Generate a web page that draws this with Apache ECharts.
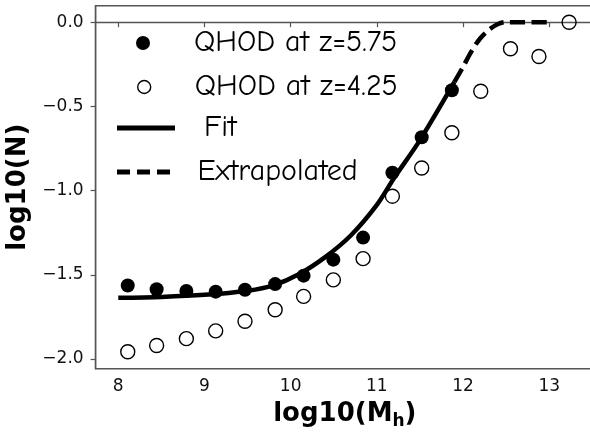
<!DOCTYPE html>
<html><head><meta charset="utf-8">
<script src="https://cdn.jsdelivr.net/npm/echarts@6/dist/echarts.min.js"></script>
<style>html,body{margin:0;padding:0;background:#fff}#c{width:590px;height:437px}</style>
</head><body><div id="c"></div>
<script>
// halo mass bins (log10 Mh)
const massBins = [8.11, 8.445, 8.79, 9.13, 9.47, 9.82, 10.15, 10.495, 10.84, 11.18, 11.52, 11.87, 12.205, 12.55, 12.88, 13.23];
// log10(N) for QHOD at z=5.75 (first 12 bins)
const qhodZ575 = [-1.563, -1.586, -1.596, -1.600, -1.589, -1.555, -1.505, -1.410, -1.279, -0.894, -0.683, -0.404];
// log10(N) for QHOD at z=4.25
const qhodZ425 = [-1.957, -1.920, -1.879, -1.833, -1.776, -1.707, -1.628, -1.530, -1.404, -1.033, -0.866, -0.656, -0.410, -0.158, -0.204, 0.0];
// fit curve
const fitX = [8.0, 8.5, 9.0, 9.5, 9.8, 10.1, 10.4, 10.7, 11.0, 11.2, 11.5, 11.9];
const fitY = [-1.636, -1.631, -1.619, -1.594, -1.562, -1.495, -1.395, -1.265, -1.085, -0.925, -0.700, -0.355];
// extrapolated curve
const extrapX = [11.9, 12.0, 12.1, 12.2, 12.3, 12.4, 12.49, 13.0];
const extrapY = [-0.355, -0.265, -0.170, -0.095, -0.045, -0.012, 0.0, 0.0];
// ticks
const xTicks = [8, 9, 10, 11, 12, 13];
const yTicks = [0, -0.5, -1.0, -1.5, -2.0];

const zip = (xs, ys) => ys.map((y, i) => [xs[i], y]);
const sans = '"DejaVu Sans", sans-serif';
const legendFamily = '"Comic Sans MS", "Comic Neue", "DejaVu Sans", sans-serif';
const legendText = (pad) => ({fontFamily: legendFamily, fontSize: 30, color: '#000', padding: [0, 0, 0, pad]});

const chart = echarts.init(document.getElementById('c'));
chart.setOption({
  animation: false,
  backgroundColor: '#fff',
  grid: {left: 95.6, width: 498.5, top: 5.7, height: 363.1, outerBoundsMode: 'none', containLabel: false,
         show: true, borderColor: '#555', borderWidth: 1.4, backgroundColor: 'transparent'},
  xAxis: {
    type: 'value', min: 7.737, max: 13.52,
    name: '{a|log10(M}{b|h}{a|)}', nameLocation: 'middle', nameGap: 30,
    nameTextStyle: {rich: {
      a: {fontFamily: sans, fontSize: 26, fontWeight: 'bold', color: '#000'},
      b: {fontFamily: sans, fontSize: 17, fontWeight: 'bold', color: '#000', padding: [14, 0, 0, 0]}
    }},
    axisLine: {show: true, lineStyle: {color: '#555', width: 1.4}},
    axisTick: {show: true, customValues: xTicks, length: 5, lineStyle: {color: '#555', width: 1.2}},
    axisLabel: {customValues: xTicks, margin: 9, fontFamily: sans, fontSize: 17, color: '#111', formatter: v => String(v)},
    splitLine: {show: false}
  },
  yAxis: {
    type: 'value', min: -2.058, max: 0.098,
    name: 'log10(N)', nameLocation: 'middle', nameGap: 58,
    nameTextStyle: {fontFamily: sans, fontSize: 26, fontWeight: 'bold', color: '#000'},
    axisLine: {show: true, lineStyle: {color: '#555', width: 1.4}},
    axisTick: {show: true, customValues: yTicks, length: 5, lineStyle: {color: '#555', width: 1.2}},
    axisLabel: {customValues: yTicks, margin: 12, fontFamily: sans, fontSize: 17, color: '#111',
      formatter: v => v.toFixed(1).replace('-', '\u2212')},
    splitLine: {show: false}
  },
  legend: [
    {data: [{name: 'QHOD at z=5.75', icon: 'circle', itemStyle: {color: '#000', borderWidth: 0}}],
     left: 136, top: 28, padding: 0, itemWidth: 14, itemHeight: 14, selectedMode: false, textStyle: legendText(39)},
    {data: [{name: 'QHOD at z=4.25', icon: 'circle', itemStyle: {color: 'rgba(255,255,255,0)', borderColor: '#000', borderWidth: 1.4}}],
     left: 137, top: 72, padding: 0, itemWidth: 13, itemHeight: 13, selectedMode: false, textStyle: legendText(39)},
    {data: [{name: 'Fit', icon: 'rect', itemStyle: {color: '#000', borderWidth: 0}}],
     left: 117, top: 113, padding: 0, itemWidth: 58, itemHeight: 5, selectedMode: false, textStyle: legendText(24)},
    {data: [{name: 'Extrapolated', icon: 'path://M0,0h13v5h-13z M20,0h13v5h-13z M40,0h13v5h-13z', itemStyle: {color: '#000', borderWidth: 0}}],
     left: 117, top: 157, padding: 0, itemWidth: 56, itemHeight: 5, selectedMode: false, textStyle: legendText(21)}
  ],
  series: [
    {name: 'Fit', type: 'line', data: zip(fitX, fitY), showSymbol: false, symbol: 'none', smooth: 0.3,
     lineStyle: {color: '#000', width: 4.5, cap: 'butt'}, itemStyle: {color: '#000'}, z: 2},
    {name: 'Extrapolated', type: 'line', data: zip(extrapX, extrapY), showSymbol: false, symbol: 'none', smooth: 0.3,
     lineStyle: {color: '#000', width: 4.5, type: [15, 6.5], cap: 'butt'}, itemStyle: {color: '#000'}, z: 2},
    {name: 'QHOD at z=5.75', type: 'scatter', data: zip(massBins.slice(0, qhodZ575.length), qhodZ575), symbolSize: 14,
     itemStyle: {color: '#000', opacity: 1}, z: 3},
    {name: 'QHOD at z=4.25', type: 'scatter', data: zip(massBins, qhodZ425), symbolSize: 14,
     itemStyle: {color: 'rgba(255,255,255,0)', borderColor: '#000', borderWidth: 1.4, opacity: 1}, z: 3}
  ]
});
</script></body></html>
